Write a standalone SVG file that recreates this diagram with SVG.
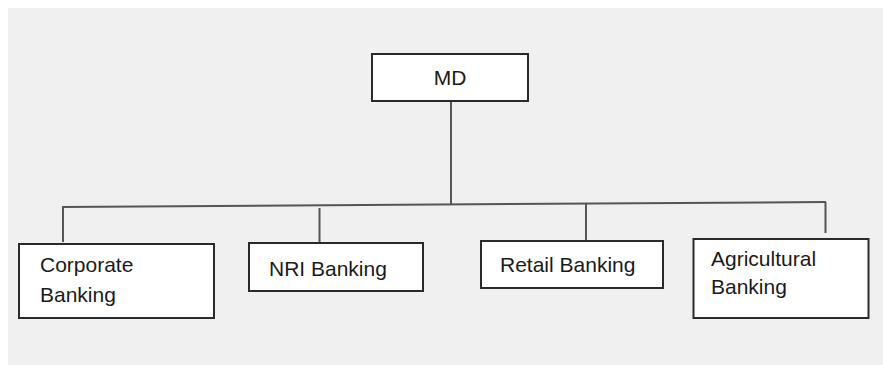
<svg xmlns="http://www.w3.org/2000/svg" width="883" height="365" viewBox="0 0 883 365">
  <style>
    .box { fill: #ffffff; stroke: #2a2a2a; stroke-width: 2; }
    .link { fill: none; stroke: #555555; stroke-width: 2; }
    .label { font-family: "Liberation Sans", Arial, sans-serif; font-size: 21px; fill: #1a1a1a; }
  </style>
  <rect x="0" y="0" width="883" height="365" fill="#ffffff"/>
  <rect x="8" y="8" width="875" height="357" fill="#f0f0f0"/>

  <g id="connectors">
    <line class="link" x1="451" y1="101" x2="451" y2="205"/>
    <line class="link" x1="62" y1="207" x2="826" y2="202"/>
    <line class="link" x1="63" y1="206" x2="63" y2="242"/>
    <line class="link" x1="319.5" y1="208" x2="319.5" y2="243"/>
    <line class="link" x1="586" y1="204" x2="586" y2="240"/>
    <line class="link" x1="825.5" y1="202" x2="825.5" y2="233"/>
  </g>

  <g id="md">
    <rect class="box" x="372" y="54" width="156" height="47"/>
    <text class="label" x="450" y="85" text-anchor="middle">MD</text>
  </g>

  <g id="corporate-banking">
    <rect class="box" x="19" y="244" width="195" height="74"/>
    <text class="label" x="40" y="272">Corporate</text>
    <text class="label" x="40" y="302">Banking</text>
  </g>

  <g id="nri-banking">
    <rect class="box" x="249" y="243" width="174" height="48"/>
    <text class="label" x="269" y="276">NRI Banking</text>
  </g>

  <g id="retail-banking">
    <rect class="box" x="481" y="241" width="182" height="47"/>
    <text class="label" x="500" y="272">Retail Banking</text>
  </g>

  <g id="agricultural-banking">
    <rect class="box" x="693.5" y="239" width="175" height="79"/>
    <text class="label" x="711" y="266">Agricultural</text>
    <text class="label" x="711" y="294">Banking</text>
  </g>
</svg>
